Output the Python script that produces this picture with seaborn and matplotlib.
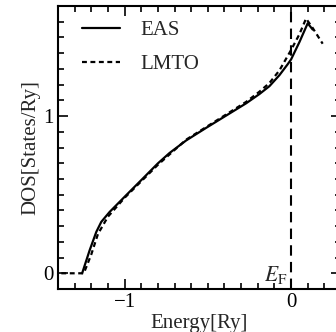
import matplotlib
matplotlib.use("Agg")
import matplotlib.pyplot as plt
from matplotlib.ticker import MultipleLocator
import seaborn as sns
import pandas as pd

energy_eas = [-1.255, -1.21, -1.17, -1.14, -1.09, -0.99, -0.89, -0.80, -0.73, -0.63,
              -0.51, -0.39, -0.27, -0.19, -0.13, -0.07, -0.02, 0.00, 0.05, 0.10, 0.13]
dos_eas = [0.00, 0.146, 0.263, 0.327, 0.39, 0.497, 0.603, 0.699, 0.765, 0.845,
           0.925, 1.003, 1.081, 1.14, 1.19, 1.26, 1.33, 1.36, 1.47, 1.59, 1.55]

energy_lmto = [-1.38, -1.245, -1.20, -1.16, -1.10, -1.00, -0.80, -0.63, -0.51, -0.39,
               -0.27, -0.19, -0.13, -0.07, 0.00, 0.05, 0.09, 0.13, 0.19]
dos_lmto = [0.00, 0.00, 0.12, 0.25, 0.36, 0.48, 0.69, 0.85, 0.93, 1.01,
            1.09, 1.155, 1.21, 1.29, 1.42, 1.52, 1.62, 1.56, 1.46]

xticks = [-1, 0]
yticks = [0, 1]

sns.set_style("ticks")
plt.rcParams["font.family"] = ["Liberation Serif", "DejaVu Serif"]
plt.rcParams["mathtext.fontset"] = "stix"

df = pd.concat([
    pd.DataFrame({"Energy": energy_eas, "DOS": dos_eas, "method": "EAS"}),
    pd.DataFrame({"Energy": energy_lmto, "DOS": dos_lmto, "method": "LMTO"}),
])

fig = plt.figure(figsize=(3.36, 3.32), dpi=100)
ax = fig.add_axes([58/336, 1 - 289/332, (341 - 58)/336, (289 - 6)/332])

sns.lineplot(data=df, x="Energy", y="DOS", hue="method", style="method",
             palette={"EAS": "black", "LMTO": "black"},
             dashes={"EAS": "", "LMTO": (2.2, 1.6)},
             sort=False, linewidth=1.6, ax=ax, legend=True)

ax.axvline(0, color="black", linewidth=1.5, dashes=(5, 3))

ax.set_xlim(-1.4, 0.3)
ax.set_ylim(-0.1, 1.7)
ax.set_xticks(xticks)
ax.set_xticklabels(["\u22121", "0"])
ax.set_yticks(yticks)
ax.set_yticklabels(["0", "1"])
ax.xaxis.set_minor_locator(MultipleLocator(0.1))
ax.yaxis.set_minor_locator(MultipleLocator(0.1))
ax.tick_params(which="both", direction="in", top=True, right=True, width=1.2,
               labelsize=15, colors="black", pad=3)
ax.tick_params(which="major", length=7)
ax.tick_params(which="minor", length=4)
for s in ax.spines.values():
    s.set_linewidth(1.5)
    s.set_color("black")

ax.set_xlabel("Energy[Ry]", fontsize=15, labelpad=1)
ax.set_ylabel("DOS[States/Ry]", fontsize=15, labelpad=2)

ax.text(-0.025, -0.05, r"$E_{\rm F}$", ha="right", va="baseline", fontsize=15.5)

h, l = ax.get_legend_handles_labels()
leg = ax.legend(h, l, loc="upper left", bbox_to_anchor=(0.085, 0.948),
                frameon=False, fontsize=15, handlelength=1.8,
                handletextpad=1.0, labelspacing=0.68, borderpad=0, borderaxespad=0)

fig.savefig("out.png", dpi=100)
